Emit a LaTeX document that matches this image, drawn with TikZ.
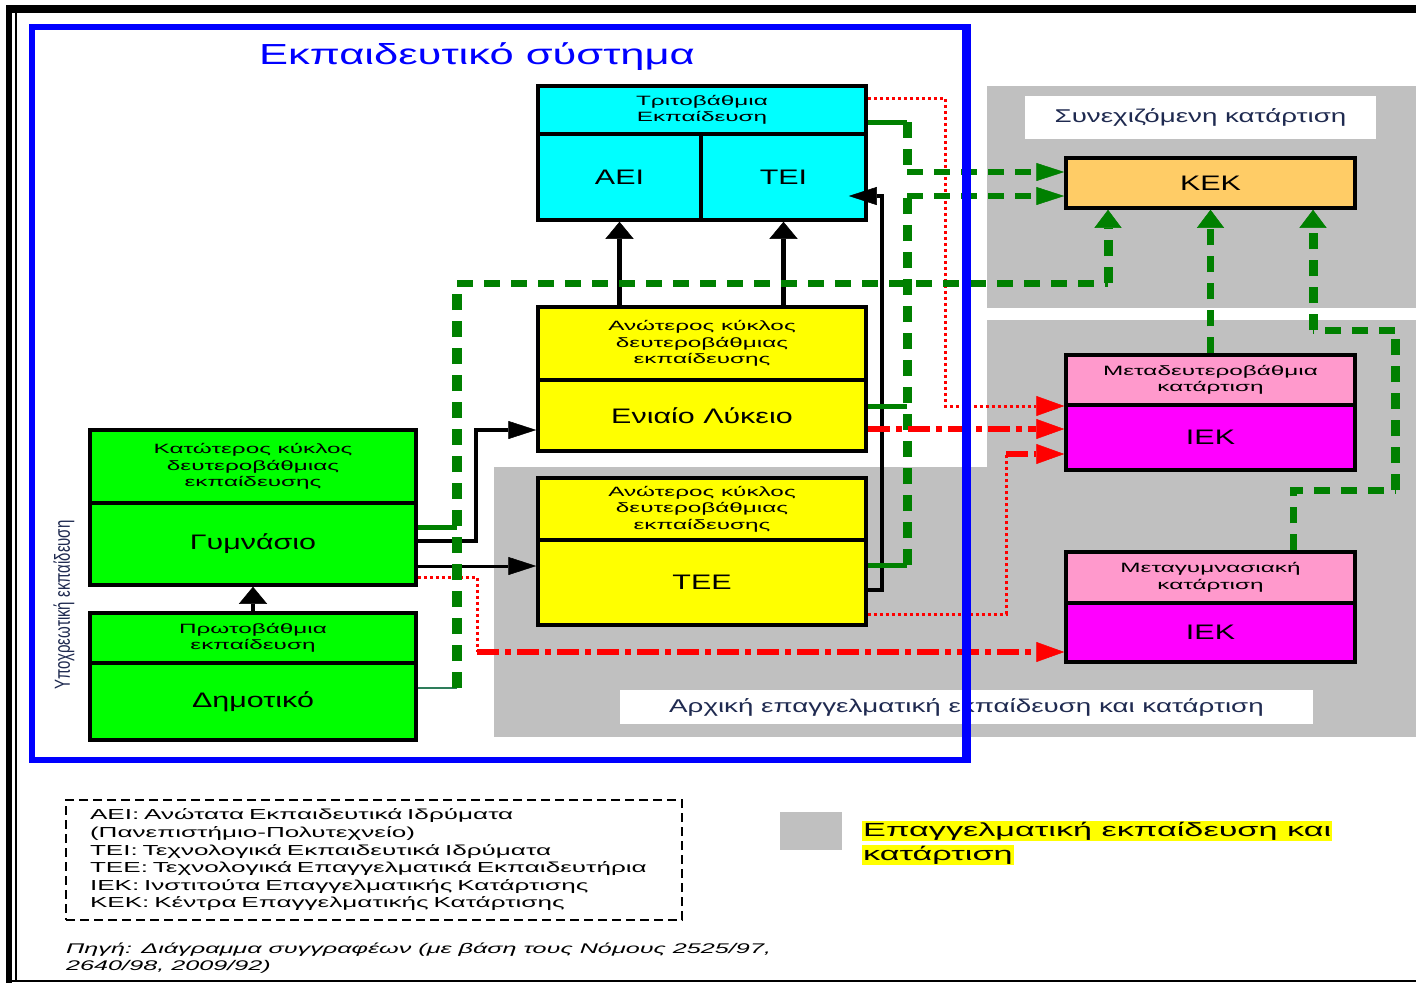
\documentclass[tikz,border=0pt]{standalone}
\usepackage{fontspec}
\usepackage{graphicx}
\setmainfont{Liberation Sans}
\newfontfamily\fA[FakeStretch=1.45]{Liberation Sans}
\newfontfamily\fB[FakeStretch=1.8]{Liberation Sans}
\newfontfamily\fC[FakeStretch=1.5]{Liberation Sans}
\usetikzlibrary{arrows.meta}
\definecolor{cyanC}{HTML}{00FFFF}
\definecolor{yelC}{HTML}{FFFF00}
\definecolor{grnC}{HTML}{00FF00}
\definecolor{pinkC}{HTML}{FF99CC}
\definecolor{magC}{HTML}{FF00FF}
\definecolor{kekC}{HTML}{FFCC66}
\definecolor{grayC}{HTML}{C0C0C0}
\definecolor{blueC}{HTML}{0000FF}
\definecolor{greenD}{HTML}{008000}
\definecolor{tealD}{HTML}{2E7D5B}
\definecolor{redC}{HTML}{FF0000}
\definecolor{navyT}{HTML}{1F2A50}
\tikzset{
  box/.style={draw=black, line width=3.5pt, inner sep=0pt, align=center, text=black},
  hdr/.style={font=\fB\fontsize{13.5}{16.5}\selectfont},
  big/.style={font=\fA\fontsize{21}{25}\selectfont},
  lbl/.style={fill=white, inner sep=0pt, font=\fC\fontsize{18.5}{20}\selectfont, text=navyT},
  blkline/.style={draw=black, line width=4pt},
  hblk/.style={-{Triangle[length=28pt,width=18pt,line width=0.5pt]}},
  vblk/.style={-{Triangle[length=17pt,width=28pt,line width=0.5pt]}},
  gsolid/.style={draw=greenD, line width=5pt},
  gdash/.style={draw=greenD, dash pattern=on 16pt off 11pt},
  hgr/.style={-{Triangle[length=28pt,width=18pt,line width=0.5pt]}},
  vgr/.style={-{Triangle[length=18pt,width=27pt,line width=0.5pt]}},
  rdot/.style={draw=redC, line width=3pt, dash pattern=on 3pt off 3pt},
  rdash/.style={draw=redC, line width=5.5pt, dash pattern=on 22pt off 6pt on 6pt off 6pt},
  hred/.style={-{Triangle[length=28pt,width=20pt,line width=0.5pt]}},
}
\begin{document}
\begin{tikzpicture}[x=1pt,y=-1pt]
\useasboundingbox (0,0) rectangle (1416,983);
\fill[white] (0,0) rectangle (1416,983);

% gray areas
\fill[grayC] (987,86) rectangle (1416,308);
\fill[grayC] (987,320) rectangle (1416,737);
\fill[grayC] (494,467) rectangle (987,737);

% labels in gray areas
\node[lbl, minimum width=351pt, minimum height=43pt] (lblC) at (1200.5,117.5) {Συνεχιζόμενη κατάρτιση};
\node[lbl, minimum width=693pt, minimum height=34pt] (lblA) at (966.5,707) {Αρχική επαγγελματική εκπαίδευση και κατάρτιση};

% title
\node[font=\fC\fontsize{29}{31}\selectfont, text=blueC] (title) at (477,57) {Εκπαιδευτικό σύστημα};

% tertiary
\node[box, hdr, fill=cyanC, minimum width=328pt, minimum height=48pt] (tertH) at (702,110) {Τριτοβάθμια\\Εκπαίδευση};
\node[box, big, fill=cyanC, minimum width=163pt, minimum height=86pt] (aei) at (619.5,177) {ΑΕΙ};
\node[box, big, fill=cyanC, minimum width=165pt, minimum height=86pt] (tei) at (783.5,177) {ΤΕΙ};

% lyceum
\node[box, hdr, fill=yelC, minimum width=328pt, minimum height=73pt] (lycH) at (702,343.5) {Ανώτερος κύκλος\\δευτεροβάθμιας\\εκπαίδευσης};
\node[box, big, fill=yelC, minimum width=328pt, minimum height=71pt] (lycB) at (702,415.5) {Ενιαίο Λύκειο};

% TEE
\node[box, hdr, fill=yelC, minimum width=328pt, minimum height=62pt] (teeH) at (702,509) {Ανώτερος κύκλος\\δευτεροβάθμιας\\εκπαίδευσης};
\node[box, big, fill=yelC, minimum width=328pt, minimum height=85pt] (teeB) at (702,582.5) {ΤΕΕ};

% gymnasio
\node[box, hdr, fill=grnC, minimum width=326pt, minimum height=73pt] (gymH) at (253,466.5) {Κατώτερος κύκλος\\δευτεροβάθμιας\\εκπαίδευσης};
\node[box, big, fill=grnC, minimum width=326pt, minimum height=82pt] (gymB) at (253,544) {Γυμνάσιο};

% dimotiko
\node[box, hdr, fill=grnC, minimum width=326pt, minimum height=50pt] (dimH) at (253,638) {Πρωτοβάθμια\\εκπαίδευση};
\node[box, big, fill=grnC, minimum width=326pt, minimum height=77pt] (dimB) at (253,701.5) {Δημοτικό};

% KEK
\node[box, big, fill=kekC, minimum width=289pt, minimum height=50pt] (kek) at (1210.5,183) {ΚΕΚ};

% IEK post-secondary
\node[box, hdr, fill=pinkC, minimum width=289pt, minimum height=50pt] (iek1H) at (1210.5,380) {Μεταδευτεροβάθμια\\κατάρτιση};
\node[box, big, fill=magC, minimum width=289pt, minimum height=65pt] (iek1B) at (1210.5,437.5) {ΙΕΚ};

% IEK post-gymnasium
\node[box, hdr, fill=pinkC, minimum width=289pt, minimum height=51pt] (iek2H) at (1210.5,577.5) {Μεταγυμνασιακή\\κατάρτιση};
\node[box, big, fill=magC, minimum width=289pt, minimum height=59pt] (iek2B) at (1210.5,632.5) {ΙΕΚ};

% rotated label
\node[rotate=90, font=\fontsize{15}{17}\selectfont, text=navyT] (ypo) at (64,605) {\scalebox{1}[1.45]{Υποχρεωτική εκπαίδευση}};

% ---------- black connectors
\draw[blkline, line width=5pt, vblk] (lycH.north -| aei.south) -- (aei.south);
\draw[blkline, line width=5pt, vblk] (lycH.north -| tei.south) -- (tei.south);
\draw[blkline, line width=4pt, vblk] (dimH.north) -- (gymB.south);
\coordinate (bTT1) at (882,590);
\coordinate (bTT2) at (882,196);
\draw[blkline, line width=4.5pt, hblk] ([yshift=-7.5pt]teeB.east) -- (bTT1) -- (bTT2) -- ([xshift=-19pt,yshift=-19pt]tei.east);
\coordinate (bGL1) at (476,541);
\coordinate (bGL2) at (476,430);
\draw[blkline, line width=4pt, hblk] ([yshift=3pt]gymB.east) -- (bGL1) -- (bGL2) -- ([yshift=-14.5pt]lycB.west);
\draw[blkline, line width=3pt, hblk] ([yshift=-22pt]gymB.east) -- ([yshift=16.5pt]teeB.west);

% ---------- red dotted connectors
\coordinate (r1a) at (945,98);
\coordinate (r1b) at (945,406);
\draw[rdot, hred] ([yshift=12pt]tertH.east) -- (r1a) -- (r1b) -- ([yshift=-26pt]iek1H.west);
\coordinate (r3a) at (1006,614);
\coordinate (r3b) at (1006,454);
\draw[rdot] ([yshift=-31.5pt]teeB.east) -- (r3a) -- (r3b);
\draw[rdash, hred] (r3b) -- ([yshift=-16.5pt]iek1B.west);
\coordinate (r4a) at (477,577);
\coordinate (r4b) at (477,652);
\draw[rdot] ([yshift=-33pt]gymB.east) -- (r4a) -- (r4b);

% ---------- green connectors
\coordinate (g1a) at (457,688);
\coordinate (g1d) at (457,527);
\coordinate (g1b) at (457,283);
\coordinate (g1c) at (1108,283);
\draw[draw=tealD, line width=2.5pt] ([yshift=13.5pt]dimB.east) -- (g1a);
\draw[gsolid] ([yshift=17pt]gymB.east) -- (g1d);
\draw[gdash, line width=10pt] (g1a) -- (g1b);
\draw[gdash, line width=7pt] (g1b) -- (g1c);
\draw[gdash, line width=9pt, vgr] (g1c) -- (g1c |- kek.south);

\coordinate (g2a) at (907,122);
\coordinate (g2b) at (907,172);
\draw[gsolid] ([yshift=-12pt]tertH.east) -- (g2a);
\draw[gdash, line width=9pt] (g2a) -- (g2b);
\draw[gdash, line width=6pt, hgr] (g2b) -- ([yshift=11pt]kek.west);

\coordinate (g3a) at (907,406);
\coordinate (g3b) at (907,565);
\coordinate (g3c) at (907,196);
\draw[gsolid] ([yshift=9.5pt]lycB.east) -- (g3a);
\draw[gsolid] ([yshift=17.5pt]teeB.east) -- (g3b);
\draw[gdash, line width=9pt] (g3b) -- (g3c);
\draw[gdash, line width=6pt, hgr] (g3c) -- ([yshift=-13pt]kek.west);

\draw[gdash, line width=7pt, vgr] (iek1H.north) -- (kek.south);

\coordinate (g5s) at ([xshift=82.5pt]iek2H.north);
\coordinate (g5a) at (1293,490);
\coordinate (g5b) at (1395,490);
\coordinate (g5c) at (1395,330);
\coordinate (g5d) at (1313,330);
\draw[gdash, line width=7pt] (g5s) -- (g5a) -- (g5b);
\draw[gdash, line width=9pt] (g5b) -- (g5c);
\draw[gdash, line width=7pt] (g5c) -- (g5d);
\draw[gdash, line width=9pt, vgr] (g5d) -- (g5d |- kek.south);

% ---------- red dash-dot connectors
\draw[rdash, hred] ([yshift=-13.5pt]lycB.east) -- ([yshift=8.5pt]iek1B.west);
\draw[rdash, hred] (r4b) -- ([yshift=-19.5pt]iek2B.west);

% ---------- blue frame
\draw[blueC, line width=6pt] (32,27) rectangle (966,760);
\draw[blueC, line width=9pt] (966,24) -- (966,763);

% ---------- outer frame
\fill[black] (6,5) rectangle (1416,13);
\fill[black] (6,5) rectangle (12,983);
\draw[line width=1.5pt] (16,13) -- (16,980);
\draw[line width=2pt] (6,981) -- (1416,981);

% ---------- legend
\node[draw=black, line width=2pt, dash pattern=on 9pt off 5pt, minimum width=616pt, minimum height=120pt, inner xsep=24pt, inner ysep=0pt, text width=568pt, align=left, font=\fB\fontsize{14.5}{17.6}\selectfont] (leg) at (374,860)
 {ΑΕΙ: Ανώτατα Εκπαιδευτικά Ιδρύματα\\(Πανεπιστήμιο-Πολυτεχνείο)\\ΤΕΙ: Τεχνολογικά Εκπαιδευτικά Ιδρύματα\\ΤΕΕ: Τεχνολογικά Επαγγελματικά Εκπαιδευτήρια\\ΙΕΚ: Ινστιτούτα Επαγγελματικής Κατάρτισης\\ΚΕΚ: Κέντρα Επαγγελματικής Κατάρτισης};
\node[anchor=north west, align=left, inner sep=0pt, font=\fB\itshape\fontsize{14}{17}\selectfont] (src) at (66,943)
 {Πηγή: Διάγραμμα συγγραφέων (με βάση τους Νόμους 2525/97,\\2640/98, 2009/92)};
\node[fill=grayC, minimum width=62pt, minimum height=38pt, inner sep=0pt] (legsq) at (811,831) {};
\node[fill=yelC, inner sep=1pt, anchor=west, font=\fB\fontsize{19}{21}\selectfont] (legy1) at (862,831) {Επαγγελματική εκπαίδευση και};
\node[fill=yelC, inner sep=1pt, anchor=west, font=\fB\fontsize{19}{21}\selectfont] (legy2) at (862,855) {κατάρτιση};
\end{tikzpicture}
\end{document}
